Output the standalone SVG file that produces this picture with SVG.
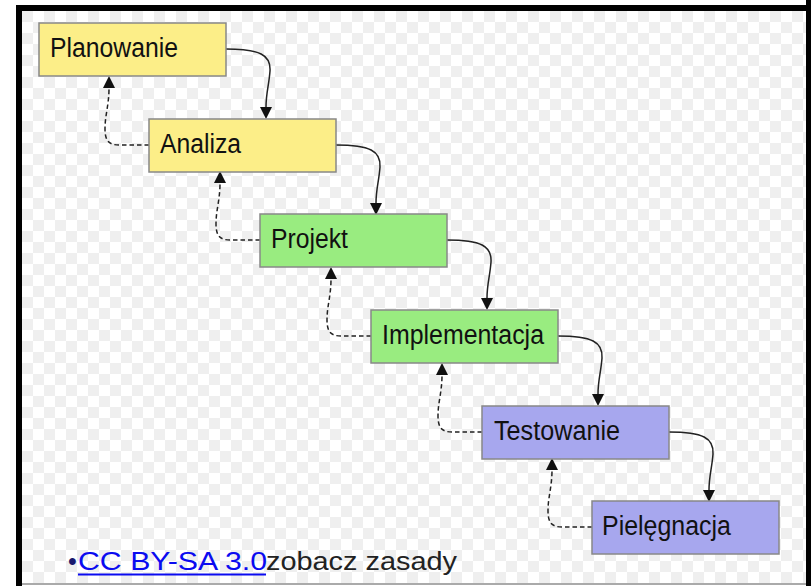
<svg xmlns="http://www.w3.org/2000/svg" width="811" height="586" viewBox="0 0 811 586">
<defs>
<pattern id="chk" x="22" y="11" width="22" height="22" patternUnits="userSpaceOnUse">
<rect width="22" height="22" fill="#ffffff"/>
<rect width="11" height="11" fill="#efefef"/>
<rect x="11" y="11" width="11" height="11" fill="#efefef"/>
</pattern>
<marker id="ah" markerUnits="userSpaceOnUse" markerWidth="12" markerHeight="12" viewBox="0 0 12 12" refX="0" refY="6" orient="auto">
<path d="M0,0 L12,6 L0,12 z" fill="#111"/>
</marker>
<style>
.box{stroke:#888;stroke-width:1.5}
.y{fill:#fcee88}
.g{fill:#99ec80}
.p{fill:#a7a7ee}
.lbl{font-family:"Liberation Sans",Arial,sans-serif;font-size:27px;fill:#111}
.solid{fill:none;stroke:#222;stroke-width:1.5}
.dash{fill:none;stroke:#222;stroke-width:1.5;stroke-dasharray:4.5 3}
.foot{font-family:"Liberation Sans",Arial,sans-serif;font-size:25px}
</style>
</defs>
<rect width="811" height="586" fill="#ffffff"/>
<rect x="22" y="11" width="784" height="572" fill="url(#chk)"/>
<rect x="16" y="5" width="795" height="6" fill="#000"/>
<rect x="16" y="5" width="6" height="581" fill="#000"/>
<rect x="806" y="0" width="5" height="586" fill="#000"/>
<rect x="22" y="583" width="784" height="2" fill="#aaaaaa"/>

<g id="connectors">
<path class="solid" marker-end="url(#ah)" d="M226,49 C260,49 271,55 270,71 C269,85 266,93 266,107"/>
<path class="solid" marker-end="url(#ah)" d="M336,145 C370,145 381,151 380,167 C379,181 376,189 376,203"/>
<path class="solid" marker-end="url(#ah)" d="M447,240 C481,240 492,246 491,262 C490,276 487,284 487,298"/>
<path class="solid" marker-end="url(#ah)" d="M558,336 C592,336 603,342 602,358 C601,372 598,380 598,394"/>
<path class="solid" marker-end="url(#ah)" d="M669,432 C703,432 714,438 713,454 C712,468 709,476 709,490"/>

<path class="dash" marker-end="url(#ah)" d="M149,145 L119,145 C109,145 105,141 105,129 C105,115 109,105 109,88"/>
<path class="dash" marker-end="url(#ah)" d="M260,240 L230,240 C220,240 216,236 216,224 C216,210 220,200 220,183"/>
<path class="dash" marker-end="url(#ah)" d="M371,336 L341,336 C331,336 327,332 327,320 C327,306 331,296 331,279"/>
<path class="dash" marker-end="url(#ah)" d="M482,432 L452,432 C442,432 438,428 438,416 C438,402 442,392 442,375"/>
<path class="dash" marker-end="url(#ah)" d="M592,527 L562,527 C552,527 548,523 548,511 C548,497 552,487 552,470"/>
</g>

<g id="planowanie">
<rect class="box y" x="39" y="23" width="187" height="53"/>
<text class="lbl" x="50" y="57" textLength="128" lengthAdjust="spacingAndGlyphs">Planowanie</text>
</g>
<g id="analiza">
<rect class="box y" x="149" y="119" width="187" height="53"/>
<text class="lbl" x="160" y="153" textLength="81" lengthAdjust="spacingAndGlyphs">Analiza</text>
</g>
<g id="projekt">
<rect class="box g" x="260" y="214" width="187" height="53"/>
<text class="lbl" x="271" y="248" textLength="77" lengthAdjust="spacingAndGlyphs">Projekt</text>
</g>
<g id="implementacja">
<rect class="box g" x="371" y="310" width="187" height="53"/>
<text class="lbl" x="382" y="344" textLength="162" lengthAdjust="spacingAndGlyphs">Implementacja</text>
</g>
<g id="testowanie">
<rect class="box p" x="482" y="406" width="187" height="53"/>
<text class="lbl" x="494" y="440" textLength="126" lengthAdjust="spacingAndGlyphs">Testowanie</text>
</g>
<g id="pielegnacja">
<rect class="box p" x="592" y="501" width="187" height="53"/>
<text class="lbl" x="602" y="535" textLength="129" lengthAdjust="spacingAndGlyphs">Pielęgnacja</text>
</g>

<g id="footer">
<text class="foot" x="68" y="570" fill="#1a1a6e">•</text>
<text class="foot" x="78" y="570" fill="#0b0bf0" textLength="189" lengthAdjust="spacingAndGlyphs">CC BY-SA 3.0</text>
<line x1="78" y1="574.5" x2="266" y2="574.5" stroke="#0b0bf0" stroke-width="1.8"/>
<text class="foot" x="266" y="570" fill="#222" textLength="191" lengthAdjust="spacingAndGlyphs">zobacz zasady</text>
</g>
</svg>
